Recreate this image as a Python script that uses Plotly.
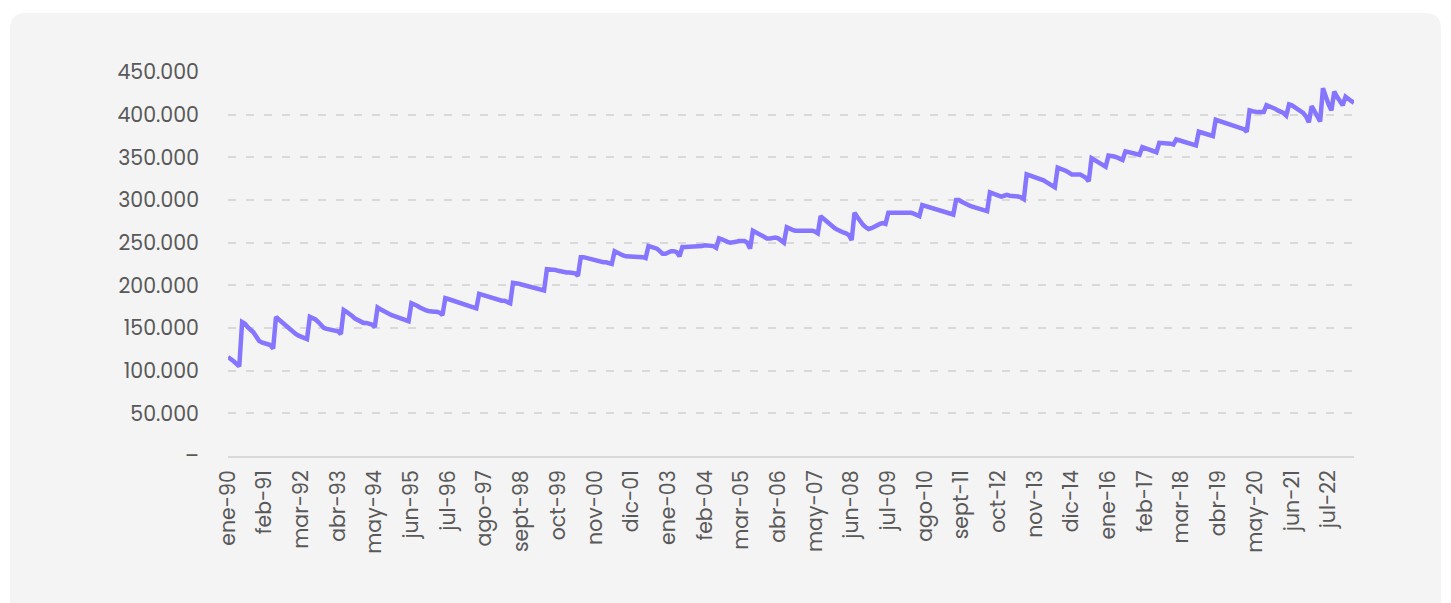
import plotly.graph_objects as go

# ---- data (values in thousands of pesos) ----
MONTHS = ["ene", "feb", "mar", "abr", "may", "jun", "jul", "ago", "sept", "oct", "nov", "dic"]
FIRST_YEAR = 1990
N_MONTHS = 400  # ene-90 .. abr-23

values_1990_1994 = [
    116, 114, 111, 108, 105,
    157, 155, 151, 148, 145, 140, 135, 133, 132, 131, 130, 126,
    163, 160, 157, 154, 151, 148, 145, 143, 141, 140, 139, 137,
    163, 162, 160, 157, 153, 150, 149, 148, 148, 147, 146, 143,
    171, 169, 167, 164, 161, 159, 157, 156, 156, 155, 154, 151,
]
values_1994_1999 = [
    174, 172, 170, 168, 166, 165, 164, 163, 162, 161, 160, 158,
    179, 178, 176, 174, 172, 171, 170, 169, 169, 169, 168, 165,
    185, 184, 183, 181, 180, 179, 178, 177, 176, 175, 174, 173,
    190, 189, 188, 187, 185, 184, 183, 183, 182, 182, 181, 179,
    203, 203, 202, 201, 200, 199, 198, 197, 196, 196, 195, 194,
]
values_1999_2004 = [
    219, 219, 218, 218, 217, 216, 216, 215, 215, 215, 214, 211,
    233, 233, 232, 231, 230, 229, 229, 228, 227, 227, 226, 225,
    240, 238, 236, 235, 234, 234, 234, 234, 233, 233, 233, 232,
    246, 245, 244, 243, 240, 237, 237, 239, 240, 240, 239, 234,
    245, 245, 245, 245, 245, 246, 246, 246, 247, 247, 247, 246, 244,
]
values_2004_2009 = [
    255, 254, 252, 251, 250, 250, 251, 252, 252, 252, 250, 243,
    264, 262, 260, 258, 256, 255, 255, 256, 256, 255, 253, 250,
    268, 266, 265, 264, 264, 265, 265, 265, 265, 264, 263, 261,
    281, 278, 275, 272, 269, 267, 265, 263, 262, 261, 259, 253,
    285, 280, 275, 271, 268, 266, 267, 269, 271, 272, 273, 272,
]
values_2009_2015 = [
    285, 285, 285, 285, 285, 285, 286, 286, 285, 284, 283, 281,
    294, 293, 292, 291, 290, 290, 289, 288, 287, 286, 285, 283,
    300, 300, 298, 296, 295, 293, 292, 291, 290, 290, 289, 287,
    309, 308, 307, 305, 304, 305, 306, 305, 305, 304, 304, 303, 301,
    330, 329, 328, 327, 326, 325, 323, 321, 319, 317, 315,
    338, 337, 336, 334, 332, 330, 330, 330, 330, 328, 326, 322,
]
values_2015_2019 = [
    349, 347, 345, 343, 341, 339,
    352, 352, 351, 350, 349, 347,
    357, 356, 355, 355, 354, 353,
    362, 361, 360, 359, 358, 356,
    367, 367, 367, 367, 366, 365,
    371, 370, 369, 368, 367, 366, 365, 364,
    380, 379, 378, 377, 376, 375,
]
values_2019_2023 = [
    394, 393, 392, 390, 389, 388, 388, 387, 386, 384, 383, 380,
    405, 404, 403, 403, 403, 403,
    411, 410, 408, 407, 405, 404, 402, 399,
    412, 411, 409, 407, 405, 402, 398, 391,
    410, 404, 398, 392,
    431, 420, 412, 405,
    427, 421, 416, 411,
    421, 418, 416, 414,
]

values = (values_1990_1994 + values_1994_1999 + values_1999_2004 + values_2004_2009
          + values_2009_2015 + values_2015_2019 + values_2019_2023)
assert len(values) == N_MONTHS, len(values)

categories = [f"{MONTHS[k % 12]}-{(FIRST_YEAR + k // 12) % 100:02d}" for k in range(N_MONTHS)]
x_tick_labels = categories[::13]

y_tick_vals = [0, 50, 100, 150, 200, 250, 300, 350, 400, 450]
y_tick_text = ["–", "50.000", "100.000", "150.000", "200.000", "250.000",
               "300.000", "350.000", "400.000", "450.000"]

# ---- figure (page body has an 8px margin, so the figure is 8px smaller) ----
OFF = 8
W, H = 1451 - OFF, 603 - OFF
ML, MT = 228 - OFF, 72 - OFF
PW, PH = 1126, 384
MR = W - ML - PW
MB = H - MT - PH


def px_to_paper(px, py):
    # px, py in screenshot coordinates
    return (px - OFF - ML) / PW, (MT + PH - (py - OFF)) / PH


x0, y1 = px_to_paper(10, 13)
x1, y0 = px_to_paper(1441, 640)
rx = 16 / PW
ry = 16 / PH
card_path = (
    f"M {x0 + rx},{y1} L {x1 - rx},{y1} Q {x1},{y1} {x1},{y1 - ry} "
    f"L {x1},{y0} L {x0},{y0} L {x0},{y1 - ry} Q {x0},{y1} {x0 + rx},{y1} Z"
)

fig = go.Figure()
fig.add_trace(go.Scatter(
    x=categories, y=values, mode="lines",
    line=dict(color="#8676FF", width=4.5),
    hoverinfo="skip", showlegend=False,
))

font_family = "Poppins, Inter, Lato, sans-serif"
fig.update_layout(
    width=W, height=H,
    margin=dict(l=ML, r=MR, t=MT, b=MB, pad=0),
    paper_bgcolor="#ffffff",
    plot_bgcolor="rgba(0,0,0,0)",
    font=dict(family=font_family, color="#595959", size=20.5),
    shapes=[dict(type="path", path=card_path, xref="paper", yref="paper",
                 fillcolor="#f4f4f4", line=dict(width=0), layer="below")],
    xaxis=dict(
        type="category", categoryorder="array", categoryarray=categories,
        tickmode="array", tickvals=x_tick_labels, ticktext=x_tick_labels,
        tickangle=-90, ticks="", showgrid=False,
        showline=True, linecolor="#d9d9d9", linewidth=2,
        ticklabelstandoff=4, fixedrange=True,
        tickfont=dict(size=20.5, color="#595959", family=font_family),
    ),
    yaxis=dict(
        range=[0, 450], tickmode="array", tickvals=y_tick_vals, ticktext=y_tick_text,
        showgrid=True, gridcolor="#d9d9d9", gridwidth=1.5, griddash="8px,10px",
        zeroline=False, showline=False, ticks="",
        ticklabelstandoff=28, fixedrange=True,
        tickfont=dict(size=20.5, color="#595959", family=font_family),
    ),
)

fig.write_html("out.html")
